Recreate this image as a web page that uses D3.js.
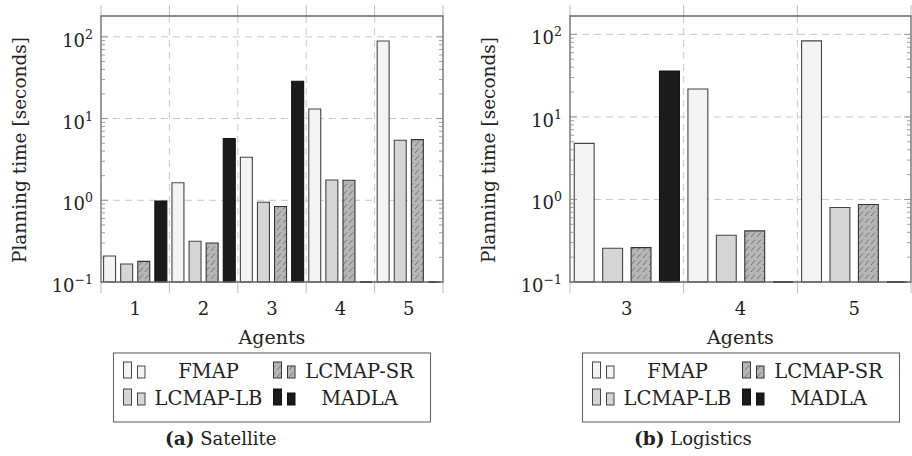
<!DOCTYPE html>
<html>
<head>
<meta charset="utf-8">
<script src="https://cdn.jsdelivr.net/npm/d3@7"></script>
<style>
  body { margin: 0; background: #fff; }
  text { font-family: "DejaVu Serif", "Liberation Serif", serif; fill: #222; }
</style>
</head>
<body>
<svg id="chart" width="912" height="456"></svg>
<script>
// series order: FMAP, LCMAP-LB, LCMAP-SR, MADLA (null = no result, drawn flat)
const seriesNames = ["FMAP", "LCMAP-LB", "LCMAP-SR", "MADLA"];

const satAgents = ["1", "2", "3", "4", "5"];
const satFMAP   = [0.208, 1.64, 3.36, 13.1, 89];
const satLB     = [0.166, 0.315, 0.945, 1.77, 5.42];
const satSR     = [0.179, 0.30, 0.84, 1.76, 5.52];
const satMADLA  = [0.98, 5.68, 28.6, null, null];

const logAgents = ["3", "4", "5"];
const logFMAP   = [4.78, 21.8, 83.4];
const logLB     = [0.256, 0.369, 0.80];
const logSR     = [0.261, 0.416, 0.87];
const logMADLA  = [36, null, null];

const yMajor = [0.1, 1, 10, 100];
const yExp = ["\u22121", "0", "1", "2"];

const fills = ["#f3f3f3", "#d5d5d5", "url(#hatch)", "#1b1b1b"];
const strokes = ["#444", "#444", "#333", "#111"];

const svg = d3.select("#chart");

// hatch for LCMAP-SR
const pat = svg.append("defs").append("pattern")
  .attr("id", "hatch")
  .attr("patternUnits", "userSpaceOnUse")
  .attr("width", 6).attr("height", 7);
pat.append("rect").attr("width", 6).attr("height", 7).attr("fill", "#b6b6b6");
pat.append("line")
  .attr("x1", 1).attr("y1", 6).attr("x2", 5).attr("y2", 1.5)
  .attr("stroke", "#6a6a6a").attr("stroke-width", 0.9);

const plotTop = 16, plotBottom = 282;

function panel(o) {
  const g = svg.append("g");
  const x = d3.scaleBand().domain(o.agents).range([o.x0, o.x1]);
  const xs = d3.scaleBand().domain(d3.range(4)).range([0, x.bandwidth()])
    .paddingInner(0.3).paddingOuter(0.15);
  const y = d3.scaleLog().domain([0.1, o.ymax]).range([plotBottom, plotTop]);

  const bounds = o.agents.map(a => x(a)).concat([o.x1]);

  // grid
  g.selectAll(".vg").data(bounds.slice(1, -1)).enter().append("line")
    .attr("x1", d => d).attr("x2", d => d)
    .attr("y1", plotTop).attr("y2", plotBottom)
    .attr("stroke", "#c8c8c8").attr("stroke-dasharray", "7,5");
  g.selectAll(".hg").data(yMajor.slice(1)).enter().append("line")
    .attr("x1", o.x0).attr("x2", o.x1)
    .attr("y1", d => y(d)).attr("y2", d => y(d))
    .attr("stroke", "#c8c8c8").attr("stroke-dasharray", "7,5");

  // outside x ticks (above and below)
  bounds.forEach(b => {
    g.append("line").attr("x1", b).attr("x2", b).attr("y1", 5).attr("y2", plotTop)
      .attr("stroke", "#bbb");
    g.append("line").attr("x1", b).attr("x2", b).attr("y1", plotBottom).attr("y2", 293)
      .attr("stroke", "#bbb");
  });

  // bars
  o.series.forEach((vals, s) => {
    g.selectAll(".b" + s).data(vals).enter().append("path")
      .attr("d", (v, i) => {
        const bx = x(o.agents[i]) + xs(s), w = xs.bandwidth();
        const ty = v == null ? y(0.1) : y(v);
        return `M${bx},${plotBottom}V${ty}H${bx + w}V${plotBottom}Z`;
      })
      .attr("fill", fills[s])
      .attr("stroke", (v) => v == null ? "#111" : strokes[s])
      .attr("stroke-width", (v) => v == null ? 2 : 1.1);
  });

  // frame
  g.append("path")
    .attr("d", `M${o.x0},${plotBottom}V${plotTop}H${o.x1}V${plotBottom}Z`)
    .attr("fill", "none").attr("stroke", "#666").attr("stroke-width", 1.3);

  // log ticks on both sides
  y.ticks().forEach(t => {
    const major = Math.abs(Math.log10(t) - Math.round(Math.log10(t))) < 1e-6;
    const len = major ? 7 : 4;
    [[o.x0, o.x0 + len], [o.x1 - len, o.x1]].forEach(([a, b]) => {
      g.append("line").attr("x1", a).attr("x2", b)
        .attr("y1", y(t)).attr("y2", y(t))
        .attr("stroke", "#888").attr("stroke-width", 0.8);
    });
  });

  // y labels
  yMajor.forEach((t, i) => {
    const tx = g.append("text")
      .attr("x", o.x0 - 8).attr("y", y(t) + 10)
      .attr("text-anchor", "end").style("font-size", "18px");
    tx.append("tspan").text("10");
    tx.append("tspan").attr("dy", -8).style("font-size", "12.5px").text(yExp[i]);
  });

  // x labels
  g.selectAll(".xl").data(o.agents).enter().append("text")
    .attr("x", d => x(d) + x.bandwidth() / 2).attr("y", 315)
    .attr("text-anchor", "middle").style("font-size", "18px")
    .text(d => d);

  const cx = (o.x0 + o.x1) / 2;
  g.append("text").attr("x", cx).attr("y", 344)
    .attr("text-anchor", "middle").style("font-size", "19px").text("Agents");

  g.append("text")
    .attr("transform", `translate(${o.x0 - 75},${(plotTop + plotBottom) / 2 + 1}) rotate(-90)`)
    .attr("text-anchor", "middle").style("font-size", "18.5px")
    .text("Planning time [seconds]");

  // legend
  const lx = o.x0 + 12.5, ly = 353;
  g.append("rect").attr("x", lx).attr("y", ly).attr("width", 317).attr("height", 69)
    .attr("fill", "#fff").attr("stroke", "#666").attr("stroke-width", 1.1);
  const slots = [[0, 0], [0, 1], [1, 0], [1, 1]]; // [col,row] per series
  slots.forEach(([c, r], s) => {
    const ix = lx + 10 + c * 150, iy = ly + 25 + r * 27;
    g.append("rect").attr("x", ix).attr("y", iy - 16).attr("width", 8).attr("height", 16)
      .attr("fill", fills[s]).attr("stroke", strokes[s]).attr("stroke-width", 1);
    g.append("rect").attr("x", ix + 14).attr("y", iy - 12).attr("width", 7.5).attr("height", 12)
      .attr("fill", fills[s]).attr("stroke", strokes[s]).attr("stroke-width", 1);
    g.append("text").attr("x", lx + (c === 0 ? 95 : 246)).attr("y", iy)
      .attr("text-anchor", "middle").style("font-size", "19.5px")
      .text(seriesNames[s]);
  });

  const cap = g.append("text").attr("x", o.x0 + 64).attr("y", 445)
    .attr("text-anchor", "start").style("font-size", "18px");
  cap.append("tspan").style("font-weight", "bold").style("font-size", "18.5px").text(o.tag);
  cap.append("tspan").text(" " + o.title);
}

panel({ agents: satAgents, series: [satFMAP, satLB, satSR, satMADLA],
        x0: 101, x1: 443, ymax: 180, tag: "(a)", title: "Satellite" });
panel({ agents: logAgents, series: [logFMAP, logLB, logSR, logMADLA],
        x0: 570, x1: 911, ymax: 167, tag: "(b)", title: "Logistics" });
</script>
</body>
</html>
